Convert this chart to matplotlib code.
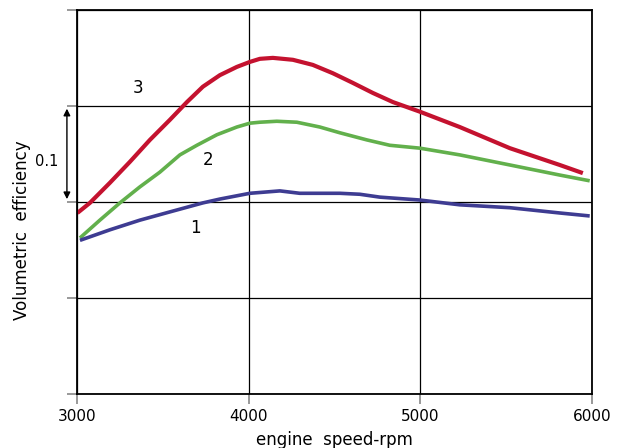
import matplotlib.pyplot as plt

# curve data (relative efficiency units, grid step = 0.1)
rpm_3 = [3000, 3073, 3190, 3306, 3423, 3539, 3639, 3732, 3831, 3930, 4006, 4064, 4140,
         4257, 4373, 4490, 4606, 4723, 4840, 4997, 5230, 5522, 5813, 5948]
eff_3 = [0.1885, 0.199, 0.220, 0.2417, 0.2646, 0.2854, 0.304, 0.320, 0.332, 0.3406, 0.3458, 0.349, 0.350,
         0.348, 0.3427, 0.334, 0.324, 0.3135, 0.304, 0.294, 0.278, 0.256, 0.2385, 0.230]

rpm_2 = [3015, 3131, 3248, 3364, 3481, 3598, 3697, 3814, 3930, 4006, 4064, 4163,
         4280, 4414, 4531, 4688, 4822, 4997, 5230, 5522, 5813, 5988]
eff_2 = [0.1625, 0.181, 0.199, 0.2156, 0.231, 0.249, 0.259, 0.270, 0.278, 0.282, 0.283, 0.284,
         0.283, 0.278, 0.272, 0.2646, 0.259, 0.256, 0.249, 0.2385, 0.228, 0.222]

rpm_1 = [3015, 3190, 3364, 3539, 3732, 3831, 4006, 4181, 4297, 4531, 4647, 4764,
         4997, 5230, 5522, 5813, 5988]
eff_1 = [0.160, 0.171, 0.181, 0.1896, 0.199, 0.203, 0.209, 0.2115, 0.209, 0.209, 0.208, 0.205,
         0.202, 0.197, 0.194, 0.1885, 0.1854]

x_ticks = [3000, 4000, 5000, 6000]
y_grid = [0.0, 0.1, 0.2, 0.3, 0.4]

fig = plt.figure(figsize=(6.19, 4.48), dpi=100)
ax = fig.add_axes([0.125, 0.1205, 0.831, 0.8575])

ax.plot(rpm_3, eff_3, color='#C4122F', lw=3.0, solid_capstyle='butt', solid_joinstyle='round')
ax.plot(rpm_2, eff_2, color='#62B04C', lw=2.6, solid_capstyle='butt', solid_joinstyle='round')
ax.plot(rpm_1, eff_1, color='#3E3C92', lw=2.6, solid_capstyle='butt', solid_joinstyle='round')

ax.set_xlim(3000, 6000)
ax.set_ylim(0, 0.4)
ax.set_xticks(x_ticks)
ax.set_xticklabels([str(t) for t in x_ticks], fontsize=11)
ax.set_yticks(y_grid)
ax.set_yticklabels([])
ax.tick_params(axis='both', color='#888888', length=7, width=1.2, pad=4)
ax.grid(True, color='black', lw=0.9)
for s in ax.spines.values():
    s.set_linewidth(1.3)

# curve numbers
ax.text(3353, 0.319, '3', fontsize=12, ha='center', va='center')
ax.text(3761, 0.244, '2', fontsize=12, ha='center', va='center')
ax.text(3691, 0.173, '1', fontsize=12, ha='center', va='center')

# scale indicator
ax.annotate('', xy=(2939, 0.3), xytext=(2939, 0.2),
            arrowprops=dict(arrowstyle='<|-|>', color='black', lw=1, mutation_scale=10),
            annotation_clip=False)
ax.text(2822, 0.242, '0.1', fontsize=10.5, ha='center', va='center', clip_on=False)

fig.text(22 / 619, 0.487, 'Volumetric  efficiency', rotation=90, fontsize=12,
         ha='center', va='center')
fig.text(334 / 619, 0.038, 'engine  speed-rpm', fontsize=12, ha='center', va='top')

fig.savefig('out.png', dpi=100)
